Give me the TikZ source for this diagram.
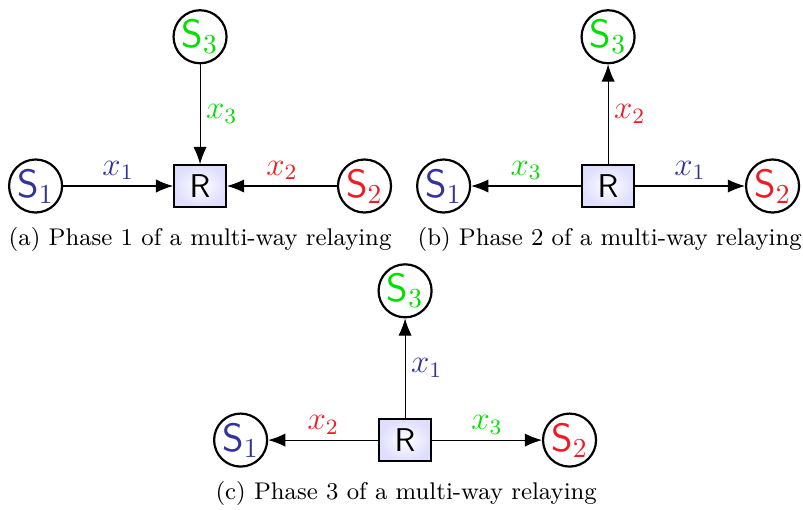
\documentclass[tikz,border=0pt]{standalone}
\usepackage{xcolor}
\definecolor{srcBlue}{HTML}{333399}
\definecolor{srcRed}{HTML}{EE1C24}
\definecolor{srcGreen}{HTML}{00E000}
\usepackage{tikz}
\usetikzlibrary{
    arrows.meta,
    positioning
}
\tikzset{
    % Source nodes - plain circles
    source/.style={
        circle,
        draw=black,
        thick,
        minimum size=0.68cm,
        inner sep=0pt,
        font=\Large,
    },
    % Relay node - shaded box
    relay/.style={
        rectangle,
        draw=black,
        semithick,
        minimum width=0.67cm,
        minimum height=0.54cm,
        inner color=white,
        outer color=blue!13,
        font=\sffamily\large,
    },
    % Message arrow
    arrow/.style={
        -{Latex[length=2.2mm, width=1.7mm]},
        draw=black,
    },
    % Message label on an arrow
    msg/.style={
        font=\large,
        inner sep=2pt,
    },
    % Sub-figure caption
    caption/.style={
        font=\fontsize{8.8}{10}\selectfont,
    },
}

\begin{document}
\begin{tikzpicture}
    \useasboundingbox (0,0) rectangle (10.30,-6.53);

    % (a) Phase 1
    \node (ra) [relay] at (2.566,-2.386) {R};
    \node (s1a) [source, text=srcBlue, left=1.41cm of ra] {\textsf{S}$_1$};
    \node (s2a) [source, text=srcRed, right=1.41cm of ra] {\textsf{S}$_2$};
    \node (s3a) [source, text=srcGreen, above=1.28cm of ra] {\textsf{S}$_3$};
    \draw [arrow] (s1a) -- node[msg, above, text=srcBlue] {$x_1$} (ra);
    \draw [arrow] (s2a) -- node[msg, above, text=srcRed] {$x_2$} (ra);
    \draw [arrow] (s3a) -- node[msg, right, text=srcGreen] {$x_3$} (ra);
    \node (capa) [caption] at (2.566,-3.066) {(a) Phase 1 of a multi-way relaying};

    % (b) Phase 2
    \node (rb) [relay] at (7.80,-2.386) {R};
    \node (s1b) [source, text=srcBlue, left=1.41cm of rb] {\textsf{S}$_1$};
    \node (s2b) [source, text=srcRed, right=1.41cm of rb] {\textsf{S}$_2$};
    \node (s3b) [source, text=srcGreen, above=1.28cm of rb] {\textsf{S}$_3$};
    \draw [arrow] (rb) -- node[msg, above, text=srcGreen] {$x_3$} (s1b);
    \draw [arrow] (rb) -- node[msg, above, text=srcBlue] {$x_1$} (s2b);
    \draw [arrow] (rb) -- node[msg, right, text=srcRed] {$x_2$} (s3b);
    \node (capb) [caption] at (7.82,-3.066) {(b) Phase 2 of a multi-way relaying};

    % (c) Phase 3
    \node (rc) [relay] at (5.196,-5.645) {R};
    \node (s1c) [source, text=srcBlue, left=1.41cm of rc] {\textsf{S}$_1$};
    \node (s2c) [source, text=srcRed, right=1.41cm of rc] {\textsf{S}$_2$};
    \node (s3c) [source, text=srcGreen, above=1.28cm of rc] {\textsf{S}$_3$};
    \draw [arrow] (rc) -- node[msg, above, text=srcRed] {$x_2$} (s1c);
    \draw [arrow] (rc) -- node[msg, above, text=srcGreen] {$x_3$} (s2c);
    \draw [arrow] (rc) -- node[msg, right, text=srcBlue] {$x_1$} (s3c);
    \node (capc) [caption] at (5.21,-6.325) {(c) Phase 3 of a multi-way relaying};
\end{tikzpicture}
\end{document}
